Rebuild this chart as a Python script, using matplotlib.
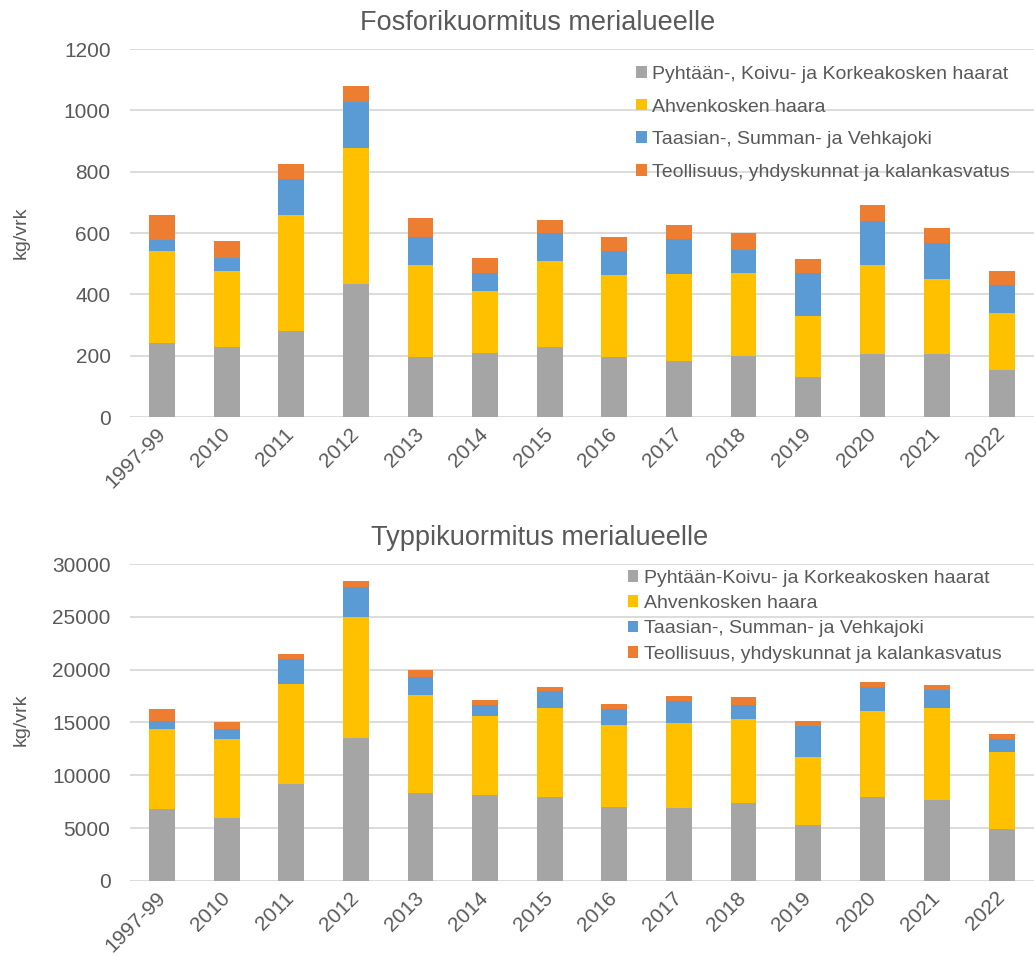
import numpy as np
import matplotlib
matplotlib.use("Agg")
import matplotlib.pyplot as plt

years=["1997-99","2010","2011","2012","2013","2014","2015","2016","2017","2018","2019","2020","2021","2022"]

# fosfori, kg/vrk
p_pyhtaa=[241,229,279,433,197,209,229,197,183,200,132,207,207,152]
p_ahven=[302,248,379,443,298,203,281,265,282,271,199,288,244,186]
p_taasia=[35,43,118,150,93,59,89,81,116,75,138,145,115,94]
p_teoll=[80,55,50,54,61,48,44,44,44,53,47,51,51,45]

# typpi, kg/vrk
n_pyhtaa=[6820,6000,9160,13550,8300,8150,7960,7010,6950,7420,5300,7900,7700,4930]
n_ahven=[7580,7450,9440,11400,9350,7450,8400,7800,7960,7930,6450,8200,8660,7320]
n_taasia=[760,890,2400,2900,1700,1040,1580,1450,2080,1330,2940,2240,1740,1200]
n_teoll=[1100,730,500,540,630,480,440,510,500,730,470,510,410,470]

labels_p=["Pyhtään-, Koivu- ja Korkeakosken haarat","Ahvenkosken haara","Taasian-, Summan- ja Vehkajoki","Teollisuus, yhdyskunnat ja kalankasvatus"]
labels_n=["Pyhtään-Koivu- ja Korkeakosken haarat","Ahvenkosken haara","Taasian-, Summan- ja Vehkajoki","Teollisuus, yhdyskunnat ja kalankasvatus"]
colors=["#A5A5A5","#FFC000","#5B9BD5","#ED7D31"]
TXT="#595959"

plt.rcParams["font.family"]=["Liberation Sans","DejaVu Sans"]
fig=plt.figure(figsize=(10.34,9.56),dpi=100)
ax1=fig.add_axes([0.1257,0.5638,0.8743,0.3849])
ax2=fig.add_axes([0.1257,0.0785,0.8743,0.3315])

def draw(ax,series,labels,ymax,step,legpos,lspace):
    x=np.arange(len(years)); bottom=np.zeros(len(years))
    for vals,c,l in zip(series,colors,labels):
        ax.bar(x,vals,0.4,bottom=bottom,color=c,label=l,zorder=3)
        bottom+=np.array(vals)
    ax.set_xlim(-0.5,len(years)-0.5); ax.set_ylim(0,ymax)
    ax.set_yticks(np.arange(0,ymax+1,step))
    ax.grid(axis="y",color="#D9D9D9",linewidth=1.3,zorder=0)
    for s in ax.spines.values(): s.set_visible(False)
    ax.tick_params(axis="both",length=0,labelsize=15,labelcolor=TXT)
    ax.tick_params(axis="y",pad=14); ax.tick_params(axis="x",pad=10)
    ax.set_xticks(x); ax.set_xticklabels(years,rotation=45,ha="right",va="center",rotation_mode="anchor")
    ax.legend(loc="upper left",bbox_to_anchor=legpos,bbox_transform=fig.transFigure,frameon=False,fontsize=14,
              labelcolor=TXT,handlelength=0.55,handleheight=0.55,handletextpad=0.3,labelspacing=lspace,borderaxespad=0,borderpad=0)

draw(ax1,[p_pyhtaa,p_ahven,p_taasia,p_teoll],labels_p,1200,200,(0.615,0.931),0.8)
draw(ax2,[n_pyhtaa,n_ahven,n_taasia,n_teoll],labels_n,30000,5000,(0.607,0.404),0.43)

fig.text(0.520,1-23/956,"Fosforikuormitus merialueelle",ha="center",va="center",fontsize=19.5,color=TXT)
fig.text(0.522,1-538/956,"Typpikuormitus merialueelle",ha="center",va="center",fontsize=19.5,color=TXT)
fig.text(21/1034,1-233/956,"kg/vrk",rotation=90,ha="center",va="center",fontsize=14,color=TXT)
fig.text(21/1034,1-720/956,"kg/vrk",rotation=90,ha="center",va="center",fontsize=14,color=TXT)
fig.savefig("out.png",dpi=100)
